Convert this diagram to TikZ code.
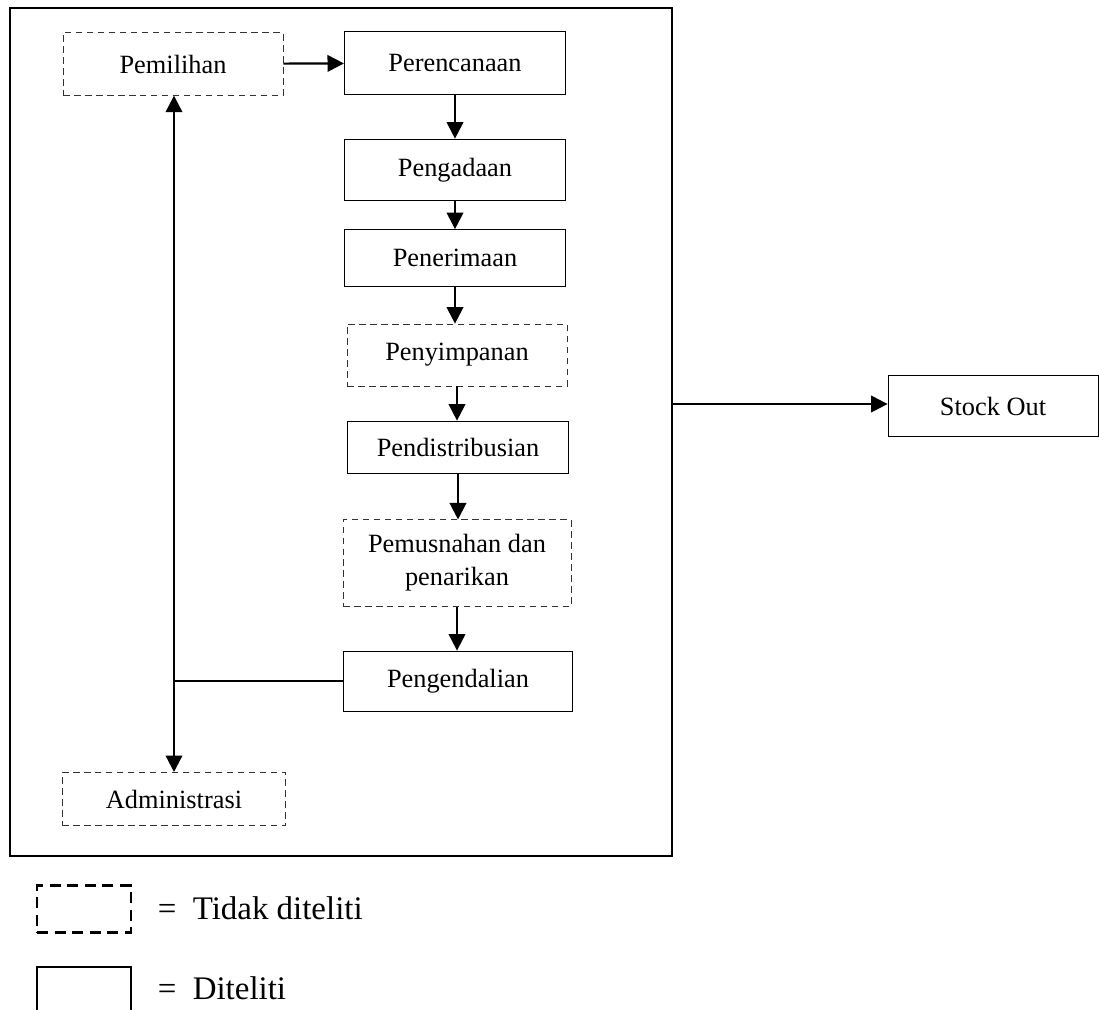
\documentclass[tikz,border=0pt]{standalone}
\usepackage{fontspec}
\setmainfont{Liberation Serif}
\usetikzlibrary{arrows.meta}

\tikzset{
	kotak/.style={draw, thin, align=center, inner sep=2pt, font=\fontsize{12}{15}\selectfont},
	kotakputus/.style={kotak, densely dashed, draw=black!80},
	panah/.style={-{Triangle[length=7.5pt,width=7.5pt]}, line width=1pt},
	garis/.style={line width=1pt}
}

\begin{document}
\begin{tikzpicture}[x=0.016cm,y=-0.016cm]
	\useasboundingbox (0,0) rectangle (1099,1009);
	
	%Rahmen
	\draw[line width=1pt] (10,8) rectangle (672,856);
	\coordinate (frameR) at (672,404);
	
	%Kotak-kotak
	\node[kotakputus, minimum width=3.52cm, minimum height=1.0cm] (pemilihan) at (173,64) {Pemilihan};
	\node[kotak, minimum width=3.54cm, minimum height=1.02cm] (perencanaan) at (455,63) {Perencanaan};
	\node[kotak, minimum width=3.54cm, minimum height=0.99cm] (pengadaan) at (455,170) {Pengadaan};
	\node[kotak, minimum width=3.54cm, minimum height=0.91cm] (penerimaan) at (455,258) {Penerimaan};
	\node[kotakputus, minimum width=3.52cm, minimum height=0.99cm] (penyimpanan) at (457,355) {Penyimpanan};
	\node[kotak, minimum width=3.54cm, minimum height=0.83cm] (distribusi) at (458,447) {Pendistribusian};
	\node[kotakputus, minimum width=3.65cm, minimum height=1.38cm] (pemusnahan) at (457,563) {Pemusnahan dan\\penarikan};
	\node[kotak, minimum width=3.66cm, minimum height=0.96cm] (pengendalian) at (458,681) {Pengendalian};
	\node[kotakputus, minimum width=3.58cm, minimum height=0.85cm] (administrasi) at (174,799) {Administrasi};
	\node[kotak, minimum width=3.36cm, minimum height=0.98cm] (stockout) at (993,406) {Stock Out};
	
	%Panah
	\draw[panah] (pemilihan) -- (perencanaan);
	\draw[panah] (perencanaan.south) -- (perencanaan.south |- pengadaan.north);
	\draw[panah] (pengadaan.south) -- (pengadaan.south |- penerimaan.north);
	\draw[panah] (penerimaan.south) -- (penerimaan.south |- penyimpanan.north);
	\draw[panah] (penyimpanan.south) -- (penyimpanan.south |- distribusi.north);
	\draw[panah] (distribusi.south) -- (distribusi.south |- pemusnahan.north);
	\draw[panah] (pemusnahan.south) -- (pemusnahan.south |- pengendalian.north);
	\coordinate (cabang) at (174,681);
	\draw[garis] (pengendalian) -- (cabang);
	\draw[panah] (cabang) -- (cabang |- pemilihan.south);
	\draw[panah] (cabang) -- (cabang |- administrasi.north);
	\draw[panah] (frameR) -- (frameR -| stockout.west);
	
	%Keterangan
	\node[draw, line width=1pt, dash pattern=on 5pt off 3pt, minimum width=1.5cm, minimum height=0.75cm] (legputus) at (84,909) {};
	\node[draw, line width=1pt, minimum width=1.5cm, minimum height=0.9cm] (legsolid) at (84,995) {};
	\node[anchor=west, font=\fontsize{15}{18}\selectfont] (tidak) at (150,908) {=\ \ Tidak diteliti};
	\node[anchor=west, font=\fontsize{15}{18}\selectfont] (diteliti) at (150,988) {=\ \ Diteliti};
	
\end{tikzpicture}
\end{document}
